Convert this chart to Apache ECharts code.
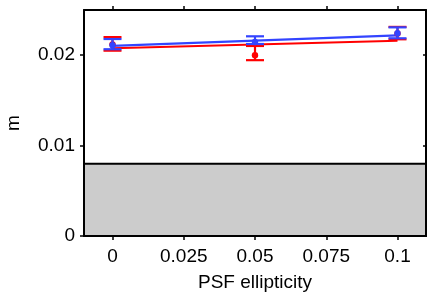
<!DOCTYPE html>
<html><head><meta charset="utf-8">
<script src="https://cdn.jsdelivr.net/npm/echarts@6/dist/echarts.min.js"></script>
<style>html,body{margin:0;padding:0;background:#fff}#c{width:436px;height:293px}</style>
</head><body><div id="c"></div>
<script>
var xValues = [0, 0.05, 0.1];
var redMean = [0.0212, 0.0200, 0.0224];
var redLow  = [0.0205, 0.01945, 0.02176];
var redHigh = [0.0220, 0.02102, 0.02313];
var blueMean = [0.0211, 0.02146, 0.02242];
var blueLow  = [0.02066, 0.02124, 0.02187];
var blueHigh = [0.02179, 0.02209, 0.02308];
var redFit = [[0, 0.02077], [0.1, 0.0216]];
var blueFit = [[0, 0.02104], [0.1, 0.0222]];
var shadedRange = [0, 0.008];
var xTicks = [0, 0.025, 0.05, 0.075, 0.1];
var yTicks = [0, 0.01, 0.02];

var RED = '#ff0000', BLUE = '#3344ff';
var FONT = 'Liberation Sans';

function errSeries(color, mean, low, high) {
  var data = xValues.map(function (x, i) { return [x, mean[i], low[i], high[i]]; });
  return {
    type: 'custom',
    data: data,
    z: 5,
    renderItem: function (params, api) {
      var x = api.value(0);
      var pm = api.coord([x, api.value(1)]);
      var pl = api.coord([x, api.value(2)]);
      var ph = api.coord([x, api.value(3)]);
      var hw = 9;
      var st = { stroke: color, lineWidth: 2.2 };
      return {
        type: 'group',
        children: [
          { type: 'line', shape: { x1: pl[0], y1: pl[1], x2: ph[0], y2: ph[1] }, style: st },
          { type: 'line', shape: { x1: pl[0] - hw, y1: pl[1], x2: pl[0] + hw, y2: pl[1] }, style: st },
          { type: 'line', shape: { x1: ph[0] - hw, y1: ph[1], x2: ph[0] + hw, y2: ph[1] }, style: st },
          { type: 'circle', shape: { cx: pm[0], cy: pm[1], r: 3.2 }, style: { fill: color } }
        ]
      };
    }
  };
}

var chart = echarts.init(document.getElementById('c'), null, { renderer: 'canvas' });
var axisLine = { show: true, onZero: false, lineStyle: { color: '#000', width: 2 } };
var tickStyle = { color: '#000', width: 1.5 };
chart.setOption({
  animation: false,
  grid: { left: 84, right: 10, top: 10, bottom: 57, containLabel: false, outerBoundsMode: 'none' },
  xAxis: [{
    type: 'value', min: -0.01, max: 0.11, z: 10,
    axisLine: axisLine,
    axisTick: { show: true, inside: false, length: 4, lineStyle: tickStyle, customValues: xTicks },
    axisLabel: { show: true, fontFamily: FONT, fontSize: 19, color: '#000', margin: 11, customValues: xTicks,
      formatter: function (v) { return String(v); } },
    splitLine: { show: false },
    name: 'PSF ellipticity', nameLocation: 'middle', nameGap: 37,
    nameTextStyle: { fontFamily: FONT, fontSize: 19, color: '#000' }
  }, {
    type: 'value', min: -0.01, max: 0.11, position: 'top', z: 10,
    axisLine: axisLine,
    axisTick: { show: true, inside: false, length: 4, lineStyle: tickStyle, customValues: xTicks },
    axisLabel: { show: false }, splitLine: { show: false }
  }],
  yAxis: [{
    type: 'value', min: 0, max: 0.025, z: 10,
    axisLine: axisLine,
    axisTick: { show: true, inside: false, length: 4, lineStyle: tickStyle, customValues: yTicks },
    axisLabel: { show: true, fontFamily: FONT, fontSize: 19, color: '#000', margin: 9, customValues: yTicks,
      formatter: function (v) { return String(v); } },
    splitLine: { show: false },
    name: 'm', nameLocation: 'middle', nameGap: 61,
    nameTextStyle: { fontFamily: FONT, fontSize: 19, color: '#000' }
  }, {
    type: 'value', min: 0, max: 0.025, position: 'right', z: 10,
    axisLine: axisLine,
    axisTick: { show: true, inside: true, length: 3, lineStyle: tickStyle, customValues: yTicks },
    axisLabel: { show: false }, splitLine: { show: false }
  }],
  series: [
    {
      type: 'line', data: [], silent: true, z: 1,
      markArea: {
        silent: true,
        itemStyle: { color: '#cccccc', borderColor: '#000', borderWidth: 2 },
        data: [[{ yAxis: shadedRange[0] }, { yAxis: shadedRange[1] }]]
      }
    },
    { type: 'line', data: redFit, symbol: 'none', lineStyle: { color: RED, width: 2.2 }, z: 3 },
    { type: 'line', data: blueFit, symbol: 'none', lineStyle: { color: BLUE, width: 2.2 }, z: 4 },
    errSeries(RED, redMean, redLow, redHigh),
    errSeries(BLUE, blueMean, blueLow, blueHigh)
  ]
});
</script></body></html>
